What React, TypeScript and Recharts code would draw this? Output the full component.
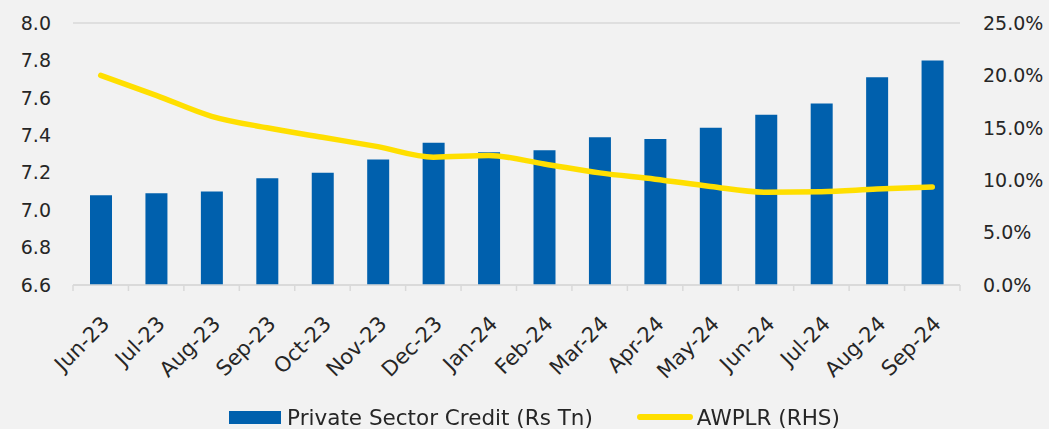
import { Bar, CartesianGrid, ComposedChart, Legend, Line, XAxis, YAxis } from 'recharts';

const months = [
  'Jun-23', 'Jul-23', 'Aug-23', 'Sep-23', 'Oct-23', 'Nov-23', 'Dec-23', 'Jan-24',
  'Feb-24', 'Mar-24', 'Apr-24', 'May-24', 'Jun-24', 'Jul-24', 'Aug-24', 'Sep-24',
];
const privateCredit = [
  7.08, 7.09, 7.1, 7.17, 7.2, 7.27, 7.36, 7.31, 7.32, 7.39, 7.38, 7.44, 7.51, 7.57, 7.71, 7.8,
];
const awplr = [
  20.0, 18.1, 16.1, 15.0, 14.1, 13.2, 12.2, 12.35, 11.55, 10.7, 10.1, 9.4, 8.85, 8.9, 9.15, 9.35,
];
const leftTicks = [6.6, 6.8, 7.0, 7.2, 7.4, 7.6, 7.8, 8.0];
const rightTicks = [0, 5, 10, 15, 20, 25];

const data = months.map((month, i) => ({ month, credit: privateCredit[i], awplr: awplr[i] }));

const W = 1049;
const H = 429;
const PLOT_LEFT = 73;
const PLOT_RIGHT = 960;
const BAND = (PLOT_RIGHT - PLOT_LEFT) / months.length;
const FONT = '"DejaVu Sans", sans-serif';
const TEXT = '#262626';
const BLUE = '#0060ad';
const YELLOW = '#ffdf00';
const GRID = '#d9d9d9';

const MonthTick = (props: any) => {
  const { x, y, payload, index } = props;
  const half = BAND / 2;
  return (
    <g>
      <line x1={x - half} x2={x - half} y1={y} y2={y + 6} stroke={GRID} strokeWidth={1.5} />
      {index === months.length - 1 && (
        <line x1={x + half} x2={x + half} y1={y} y2={y + 6} stroke={GRID} strokeWidth={1.5} />
      )}
      <text
        transform={`translate(${x + 10},${y + 40}) rotate(-45)`}
        textAnchor="end"
        fontSize={21}
        fontFamily={FONT}
        fill={TEXT}
      >
        {payload.value}
      </text>
    </g>
  );
};

const LegendContent = () => (
  <div
    style={{
      display: 'flex',
      justifyContent: 'center',
      alignItems: 'center',
      fontFamily: FONT,
      fontSize: 21.5,
      color: TEXT,
      height: 24,
      paddingLeft: 20,
    }}
  >
    <span style={{ display: 'inline-block', width: 52, height: 13, background: BLUE, marginRight: 6 }} />
    <span style={{ marginRight: 44 }}>Private Sector Credit (Rs Tn)</span>
    <span
      style={{ display: 'inline-block', width: 56, height: 6, background: YELLOW, borderRadius: 3, marginRight: 4 }}
    />
    <span>AWPLR (RHS)</span>
  </div>
);

export default function App() {
  return (
    <div style={{ position: 'fixed', left: 0, top: 0, width: W, height: H, background: '#f2f2f2' }}>
      <ComposedChart width={W} height={H} data={data} margin={{ top: 23, right: 0, bottom: 0, left: 0 }}>
        <CartesianGrid vertical={false} stroke={GRID} strokeWidth={1.5} />
        <XAxis
          dataKey="month"
          interval={0}
          height={120}
          tickLine={false}
          tickSize={0}
          tickMargin={0}
          axisLine={{ stroke: GRID, strokeWidth: 1.5 }}
          tick={<MonthTick />}
        />
        <YAxis
          yAxisId="left"
          width={73}
          domain={[6.6, 8.0]}
          ticks={leftTicks}
          tickFormatter={(v: number) => v.toFixed(1)}
          axisLine={false}
          tickLine={false}
          tickSize={0}
          tickMargin={22}
          tick={{ fontSize: 19, fontFamily: FONT, fill: TEXT }}
        />
        <YAxis
          yAxisId="right"
          orientation="right"
          width={89}
          domain={[0, 25]}
          ticks={rightTicks}
          tickFormatter={(v: number) => `${v.toFixed(1)}%`}
          axisLine={false}
          tickLine={false}
          tickSize={0}
          tickMargin={23}
          tick={{ fontSize: 19, fontFamily: FONT, fill: TEXT, textAnchor: 'start' }}
        />
        <Legend verticalAlign="bottom" height={24} content={<LegendContent />} />
        <Bar yAxisId="left" dataKey="credit" fill={BLUE} barSize={22} isAnimationActive={false} />
        <Line
          yAxisId="right"
          dataKey="awplr"
          type="monotone"
          stroke={YELLOW}
          strokeWidth={5.5}
          strokeLinecap="round"
          dot={false}
          activeDot={false}
          isAnimationActive={false}
        />
      </ComposedChart>
    </div>
  );
}
